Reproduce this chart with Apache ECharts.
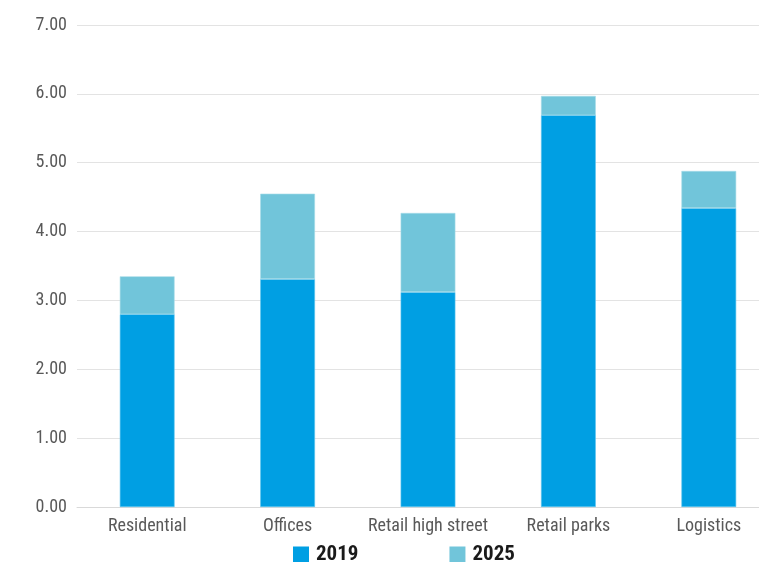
<!DOCTYPE html>
<html>
<head>
<meta charset="utf-8">
<script src="https://cdn.jsdelivr.net/npm/echarts@6/dist/echarts.min.js"></script>
<style>
  html, body { margin: 0; padding: 0; background: #ffffff; overflow: hidden; }
  #wrap { width: 759px; height: 562px; overflow: hidden; }
  /* the plot runs past the right edge of the page, so the canvas is wider than the view */
  #chart { width: 779px; height: 562px; }
</style>
</head>
<body>
<div id="wrap"><div id="chart"></div></div>
<script>
// Sectors on the x axis
const categories = ['Residential', 'Offices', 'Retail high street', 'Retail parks', 'Logistics'];
// 2019 base values
const values2019 = [2.80, 3.31, 3.12, 5.69, 4.34];
// Additional amount stacked on top for 2025
const values2025 = [0.55, 1.24, 1.15, 0.28, 0.54];

const FONT = '"Roboto Condensed", "Roboto", sans-serif';
const TEXT = '#595959';

const chart = echarts.init(document.getElementById('chart'), null, { renderer: 'canvas' });
chart.setOption({
  animation: false,
  backgroundColor: '#ffffff',
  grid: { left: 77, right: 0, top: 25, bottom: 55, containLabel: false },
  legend: {
    left: 293,
    top: 544,
    padding: 0,
    itemWidth: 16,
    itemHeight: 16,
    itemGap: 91,
    icon: 'rect',
    itemStyle: { borderWidth: 0 },
    textStyle: { fontFamily: FONT, fontSize: 21, fontWeight: 'bold', color: '#1a1a1a', padding: [0, 0, 0, 2] },
    data: ['2019', '2025']
  },
  xAxis: {
    type: 'category',
    data: categories,
    axisLine: { lineStyle: { color: '#d9d9d9', width: 1 } },
    axisTick: { show: false },
    axisLabel: { fontFamily: FONT, fontSize: 18, color: TEXT, margin: 10, interval: 0 }
  },
  yAxis: {
    type: 'value',
    min: 0,
    max: 7,
    interval: 1,
    axisLine: { show: false },
    axisTick: { show: false },
    splitLine: { lineStyle: { color: '#e3e3e3', width: 1 } },
    axisLabel: {
      fontFamily: FONT, fontSize: 18, color: TEXT, margin: 10,
      formatter: v => v.toFixed(2)
    }
  },
  series: [
    {
      name: '2019',
      type: 'bar',
      stack: 'total',
      barWidth: '39%',
      data: values2019,
      itemStyle: { color: '#009fe3', borderColor: '#5cc4ef', borderWidth: 0.6 }
    },
    {
      name: '2025',
      type: 'bar',
      stack: 'total',
      barWidth: '39%',
      data: values2025,
      itemStyle: { color: '#71c5da', borderColor: '#a6dbe8', borderWidth: 0.6 }
    }
  ]
});
</script>
</body>
</html>
